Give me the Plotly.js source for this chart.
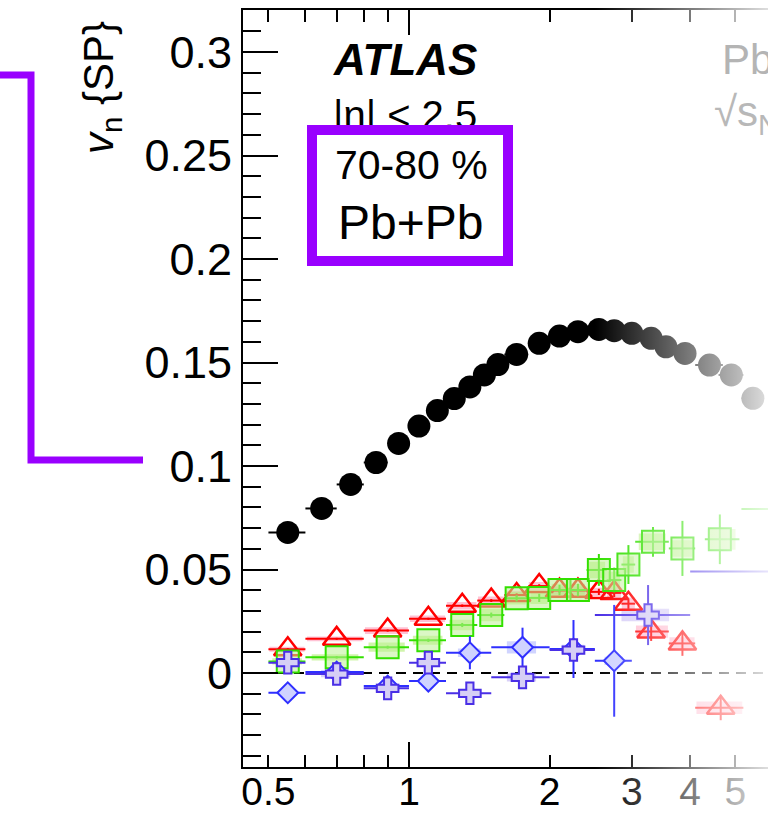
<!DOCTYPE html>
<html>
<head>
<meta charset="utf-8">
<script src="https://cdn.plot.ly/plotly-3.0.1.min.js"></script>
<style>html,body{margin:0;padding:0;background:#fff;}#chart{width:768px;height:821px;}</style>
</head>
<body>
<div id="chart"></div>
<script>
// ---------------- data ----------------
// v2 : black filled circles
const v2_pt   = [0.55,0.65,0.75,0.85,0.95,1.05,1.15,1.25,1.35,1.45,1.55,1.7,1.9,2.1,2.3,2.55,2.75,3.0,3.3,3.55,3.9,4.4,4.9,5.45];
const v2_val  = [0.0679,0.0795,0.0911,0.1017,0.1109,0.1193,0.1268,0.1326,0.1382,0.1440,0.1490,0.1539,0.1593,0.1628,0.1649,0.1660,0.1654,0.1641,0.1617,0.1576,0.1544,0.1488,0.1440,0.1327];
const v2_half = [0.05,0.05,0.05,0.05,0.05,0.05,0.05,0.05,0.05,0.05,0.05,0.1,0.1,0.1,0.1,0.15,0.1,0.15,0.15,0.15,0.2,0.3,0.3,0.3];

// v3 : red open triangles
const v3_pt  = [0.55,0.7,0.9,1.1,1.3,1.5,1.7,1.9,2.1,2.3,2.55,2.75,2.95,3.3,3.85,4.65];
const v3_lo  = [0.5,0.6,0.8,1.0,1.2,1.4,1.6,1.8,2.0,2.2,2.4,2.65,2.85,3.05,3.6,4.1];
const v3_hi  = [0.6,0.8,1.0,1.2,1.4,1.6,1.8,2.0,2.2,2.4,2.65,2.85,3.05,3.6,4.1,5.2];
const v3_val = [0.0115,0.0165,0.0205,0.0262,0.0325,0.0350,0.0377,0.0420,0.0398,0.0398,0.0392,0.0387,0.0335,0.0200,0.0143,-0.0168];
const v3_err = [0.0005,0.0005,0.0005,0.0005,0.0006,0.0007,0.0008,0.0009,0.001,0.0012,0.0015,0.002,0.0025,0.0045,0.006,0.006];
const v3_sys = [0.0012,0.0012,0.0016,0.0016,0.0018,0.002,0.002,0.002,0.002,0.002,0.002,0.0025,0.003,0.003,0.003,0.003];

// v4 : green squares
const v4_pt  = [0.55,0.7,0.9,1.1,1.3,1.5,1.7,1.9,2.1,2.3,2.55,2.75,2.95,3.33,3.85,4.63,6.3];
const v4_lo  = [0.5,0.6,0.8,1.0,1.2,1.4,1.6,1.8,2.0,2.2,2.4,2.65,2.85,3.05,3.6,4.3,5.15];
const v4_hi  = [0.6,0.8,1.0,1.2,1.4,1.6,1.8,2.0,2.2,2.4,2.65,2.85,3.05,3.6,4.1,5.1,7.5];
const v4_val = [0.0056,0.0076,0.0125,0.0158,0.0232,0.0280,0.0361,0.0363,0.0401,0.0401,0.0498,0.0449,0.0524,0.0634,0.0602,0.0646,0.0792];
const v4_err = [0.0006,0.0006,0.0007,0.0008,0.001,0.0012,0.0015,0.002,0.0025,0.003,0.0077,0.006,0.0094,0.0072,0.0133,0.012,0.015];
const v4_sys = [0.0015,0.0015,0.0022,0.0022,0.0025,0.003,0.003,0.003,0.003,0.003,0.004,0.004,0.004,0.004,0.004,0.005,0];

// v5 : blue diamonds
const v5_pt  = [0.55,0.7,0.9,1.1,1.35,1.75,2.25,2.75];
const v5_lo  = [0.5,0.6,0.8,1.0,1.2,1.5,2.0,2.5];
const v5_hi  = [0.6,0.8,1.0,1.2,1.5,2.0,2.5,3.0];
const v5_val = [-0.0095,0.0005,-0.0063,-0.0039,0.0098,0.0124,0.0116,0.0059];
const v5_err = [0.001,0.0015,0.002,0.004,0.008,0.0095,0.014,0.027];
const v5_sys = [0.0012,0.001,0.0012,0.0015,0.002,0.003,0.002,0.002];

// v6 : purple crosses
const v6_pt  = [0.55,0.7,0.9,1.1,1.35,1.75,2.25,3.25,6.3];
const v6_lo  = [0.5,0.6,0.8,1.0,1.2,1.5,2.0,2.5,4.0];
const v6_hi  = [0.6,0.8,1.0,1.2,1.5,2.0,2.5,4.0,8.0];
const v6_val = [0.0050,-0.0005,-0.0074,0.0050,-0.0098,-0.0021,0.0111,0.0280,0.0490];
const v6_err = [0.002,0.002,0.003,0.003,0.003,0.004,0.005,0.0145,0.02];
const v6_sys = [0.0015,0.0015,0.0015,0.0018,0.002,0.002,0.002,0.003,0];

// axis tick labels
const xTickVals  = [0.5,1,2,3,4,5];
const xTickText  = ['0.5','1','2','3','4','5'];
const xMinorVals = [0.6,0.7,0.8,0.9];

// ---------------- helpers ----------------
const W = 768, H = 821, ML = 243, MR = 0, MT = 10, MB = 54;
const PW = W - ML - MR, PH = H - MT - MB;
const px = x => (x - ML) / PW;          // pixel -> paper x
const py = y => (H - MB - y) / PH;      // pixel -> paper y

function sysBoxes(pt, lo, hi, val, sys, frac) {
  const xs = [], ys = [];
  for (let i = 0; i < pt.length; i++) {
    if (!sys[i]) continue;
    const a = pt[i] * Math.pow(lo[i] / pt[i], frac);
    const b = pt[i] * Math.pow(hi[i] / pt[i], frac);
    xs.push(a, b, b, a, a, null);
    ys.push(val[i] - sys[i], val[i] - sys[i], val[i] + sys[i], val[i] + sys[i], val[i] - sys[i], null);
  }
  return {xs, ys};
}
function boxTrace(b, color) {
  return {x: b.xs, y: b.ys, type: 'scatter', mode: 'lines', fill: 'toself',
          fillcolor: color, line: {width: 0, color: color}, hoverinfo: 'skip', connectgaps: false};
}
const minus = (pt, lo) => pt.map((p, i) => p - lo[i]);
const plus  = (pt, hi) => pt.map((p, i) => hi[i] - p);

const RED = '#ff0000', GREEN = '#33e000', BLUE = '#2f2fff', PURPLE = '#4a2fe6';

const traces = [
  boxTrace(sysBoxes(v3_pt, v3_lo, v3_hi, v3_val, v3_sys, 0.95), 'rgba(255,120,160,0.45)'),
  boxTrace(sysBoxes(v4_pt, v4_lo, v4_hi, v4_val, v4_sys, 0.8), 'rgba(150,230,70,0.45)'),
  boxTrace(sysBoxes(v5_pt, v5_lo, v5_hi, v5_val, v5_sys, 0.5), 'rgba(150,160,255,0.45)'),
  boxTrace(sysBoxes(v6_pt, v6_lo, v6_hi, v6_val, v6_sys, 0.5), 'rgba(170,150,240,0.45)'),
  {x: v2_pt, y: v2_val, type: 'scatter', mode: 'markers',
   marker: {symbol: 'circle', size: 23, color: '#000'},
   error_x: {type: 'data', array: v2_half, color: '#000', thickness: 2, width: 0}},
  {x: v3_pt, y: v3_val, type: 'scatter', mode: 'markers',
   marker: {symbol: 'triangle-up-open', size: 24, color: RED, line: {width: 2.5, color: RED}},
   error_x: {type: 'data', symmetric: false, array: plus(v3_pt, v3_hi), arrayminus: minus(v3_pt, v3_lo), color: RED, thickness: 2, width: 0},
   error_y: {type: 'data', array: v3_err, color: RED, thickness: 2, width: 0}},
  {x: v4_pt, y: v4_val, type: 'scatter', mode: 'markers',
   marker: {symbol: 'square', size: 22, color: 'rgba(190,240,150,0.55)', line: {width: 2, color: GREEN}},
   error_x: {type: 'data', symmetric: false, array: plus(v4_pt, v4_hi), arrayminus: minus(v4_pt, v4_lo), color: GREEN, thickness: 2, width: 0},
   error_y: {type: 'data', array: v4_err, color: GREEN, thickness: 2, width: 0}},
  {x: v5_pt, y: v5_val, type: 'scatter', mode: 'markers',
   marker: {symbol: 'diamond', size: 16, color: '#cfd3ff', line: {width: 2, color: BLUE}},
   error_x: {type: 'data', symmetric: false, array: plus(v5_pt, v5_hi), arrayminus: minus(v5_pt, v5_lo), color: BLUE, thickness: 2, width: 0},
   error_y: {type: 'data', array: v5_err, color: BLUE, thickness: 2, width: 0}},
  {x: v6_pt, y: v6_val, type: 'scatter', mode: 'markers',
   marker: {symbol: 'cross', size: 18, color: '#d6cff5', line: {width: 2, color: PURPLE}},
   error_x: {type: 'data', symmetric: false, array: plus(v6_pt, v6_hi), arrayminus: minus(v6_pt, v6_lo), color: PURPLE, thickness: 2, width: 0},
   error_y: {type: 'data', array: v6_err, color: PURPLE, thickness: 2, width: 0}}
];

const FONT = 'Liberation Sans, Arial, Helvetica, sans-serif';
const VIOLET = '#9900ff';

const fadeSvg = '<svg xmlns="http://www.w3.org/2000/svg" width="100" height="100" viewBox="0 0 100 100" preserveAspectRatio="none">' +
  '<defs><linearGradient id="g" x1="0" y1="0" x2="1" y2="0">' +
  '<stop offset="0" stop-color="#ffffff" stop-opacity="0"/>' +
  '<stop offset="1" stop-color="#ffffff" stop-opacity="0.87"/>' +
  '</linearGradient></defs><rect width="100" height="100" fill="url(#g)"/></svg>';

const layout = {
  width: W, height: H,
  margin: {l: ML, r: MR, t: MT, b: MB},
  paper_bgcolor: '#fff', plot_bgcolor: '#fff',
  showlegend: false,
  font: {family: FONT, color: '#000'},
  xaxis: {
    type: 'log', range: [-0.3555, 0.7687],
    tickmode: 'array', tickvals: xTickVals, ticktext: xTickText,
    ticks: 'inside', ticklen: 12, tickwidth: 2, tickcolor: '#000',
    minor: {tickmode: 'array', tickvals: xMinorVals, ticks: 'inside', ticklen: 12, tickwidth: 2, tickcolor: '#000', showgrid: false},
    showline: true, linecolor: '#000', linewidth: 2, mirror: 'ticks',
    showgrid: false, zeroline: false,
    tickfont: {family: FONT, size: 39, color: '#000'},
    ticklabelstandoff: -11
  },
  yaxis: {
    range: [-0.0454, 0.3203], tick0: 0, dtick: 0.05,
    ticks: 'inside', ticklen: 35, tickwidth: 2, tickcolor: '#000',
    showline: true, linecolor: '#000', linewidth: 2, mirror: false,
    showgrid: false, zeroline: false,
    minor: {dtick: 0.01, tick0: 0, ticks: 'inside', ticklen: 18, tickwidth: 2, tickcolor: '#000', showgrid: false},
    tickfont: {family: FONT, size: 45, color: '#000'},
    ticklabelstandoff: 0
  },
  shapes: [
    {type: 'line', xref: 'paper', yref: 'y', x0: 0, x1: 1, y0: 0, y1: 0,
     line: {color: '#000', width: 2, dash: '10px,7px'}, layer: 'below'},
    {type: 'line', xref: 'x', yref: 'paper', x0: 1, x1: 1, y0: 0, y1: 25 / PH, line: {color: '#000', width: 2}},
    {type: 'line', xref: 'x', yref: 'paper', x0: 1, x1: 1, y0: 1, y1: 1 - 25 / PH, line: {color: '#000', width: 2}},
    {type: 'path', xref: 'paper', yref: 'paper',
     path: `M ${px(-5)} ${py(75)} L ${px(31)} ${py(75)} L ${px(31)} ${py(460)} L ${px(143)} ${py(460)}`,
     line: {color: VIOLET, width: 7}}
  ],
  images: [{
    source: 'data:image/svg+xml;charset=utf-8,' + encodeURIComponent(fadeSvg),
    xref: 'paper', yref: 'paper', x: px(595), y: py(0), sizex: (W - 595) / PW, sizey: H / PH,
    xanchor: 'left', yanchor: 'top', sizing: 'stretch', layer: 'above', opacity: 1
  }],
  annotations: [
    {xref: 'paper', yref: 'paper', x: px(331), y: py(60), xanchor: 'left', yanchor: 'middle', showarrow: false,
     text: '<b><i>ATLAS</i></b>', font: {family: FONT, size: 44, color: '#000'}},
    {xref: 'paper', yref: 'paper', x: px(331), y: py(115), xanchor: 'left', yanchor: 'middle', showarrow: false,
     text: '|η| < 2.5', font: {family: FONT, size: 40, color: '#000'}},
    {xref: 'paper', yref: 'paper', x: px(307), y: py(125), xanchor: 'left', yanchor: 'top', showarrow: false,
     text: ' ', width: 186, height: 121, bgcolor: '#fff', bordercolor: VIOLET, borderwidth: 10, borderpad: 0},
    {xref: 'paper', yref: 'paper', x: px(411), y: py(165), xanchor: 'center', yanchor: 'middle', showarrow: false,
     text: '70-80 %', font: {family: FONT, size: 41, color: '#000'}},
    {xref: 'paper', yref: 'paper', x: px(410), y: py(222), xanchor: 'center', yanchor: 'middle', showarrow: false,
     text: 'Pb+Pb', font: {family: FONT, size: 48, color: '#000'}},
    {xref: 'paper', yref: 'paper', x: px(720), y: py(60), xanchor: 'left', yanchor: 'middle', showarrow: false,
     text: 'Pb+Pb', font: {family: FONT, size: 42, color: '#b4b4b4'}},
    {xref: 'paper', yref: 'paper', x: px(712), y: py(115), xanchor: 'left', yanchor: 'middle', showarrow: false,
     text: '√s<sub>NN</sub> = 5.02 TeV', font: {family: FONT, size: 42, color: '#b8b8b8'}},
    {xref: 'paper', yref: 'paper', x: px(101), y: py(88), xanchor: 'center', yanchor: 'middle', showarrow: false,
     textangle: -90, text: '<i>v</i><sub>n</sub> {SP}', font: {family: FONT, size: 42, color: '#000'}}
  ]
};

Plotly.newPlot('chart', traces, layout, {staticPlot: true, displayModeBar: false});
</script>
</body>
</html>
